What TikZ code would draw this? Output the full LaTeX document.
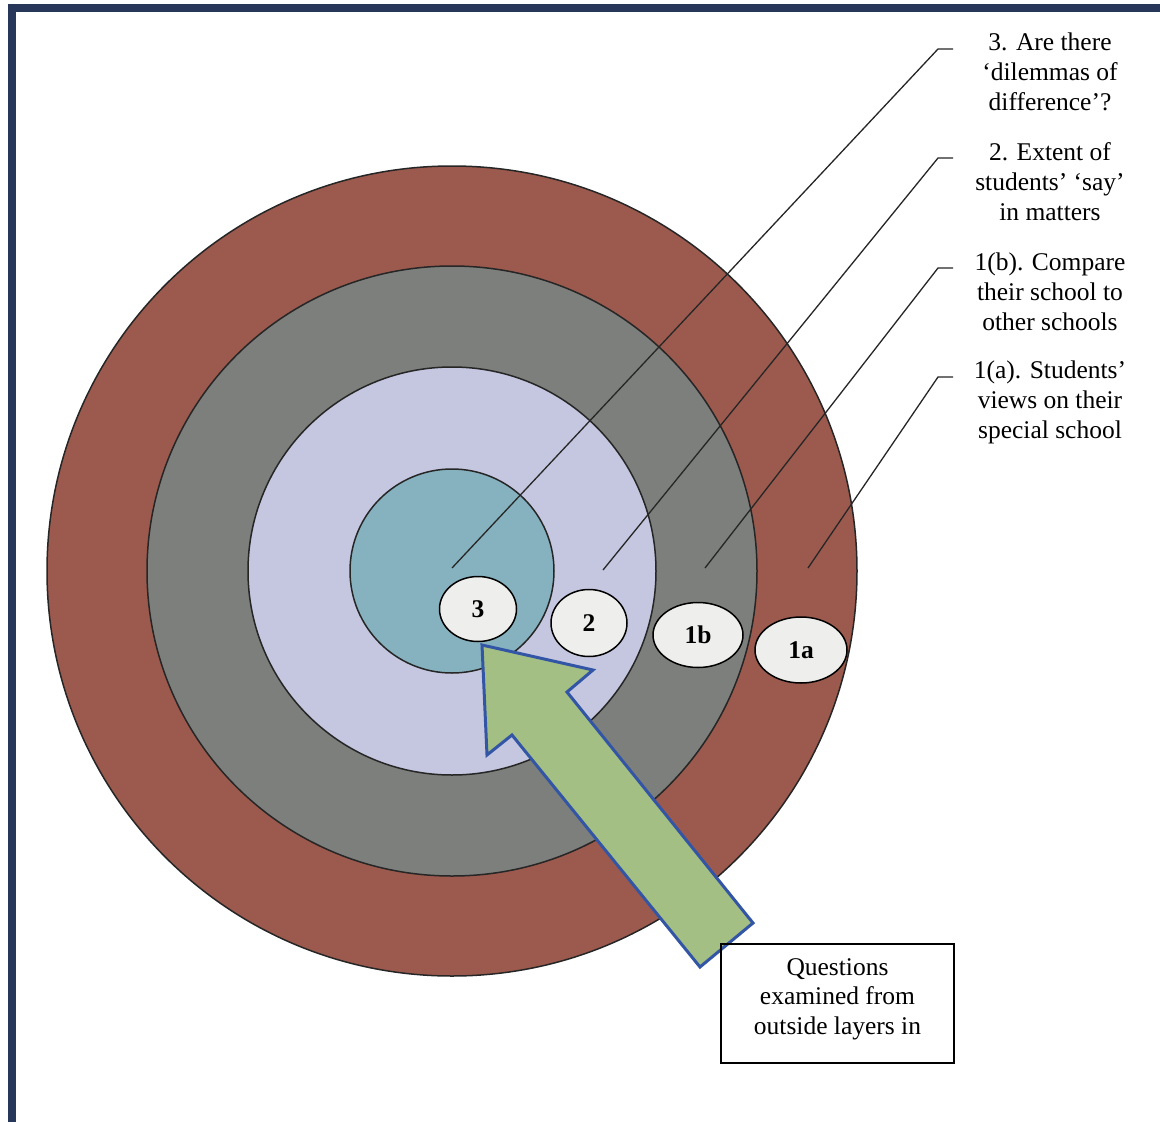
\documentclass[tikz,border=0pt]{standalone}
\usepackage{fontspec}
\setmainfont{Liberation Serif}
\usetikzlibrary{shapes.geometric}
\definecolor{frameblue}{HTML}{27375A}
\definecolor{ringbrown}{HTML}{9C5A4E}
\definecolor{ringgray}{HTML}{7C7F7B}
\definecolor{ringlav}{HTML}{C5C7E0}
\definecolor{coreteal}{HTML}{86B2BF}
\definecolor{bubblefill}{HTML}{EEEEEC}
\definecolor{arrowgreen}{HTML}{A4BF84}
\definecolor{arrowedge}{HTML}{3355A5}

\begin{document}
\begin{tikzpicture}[x=1pt,y=-1pt,
  ring/.style={draw=black!85, line width=1.5pt},
  bubble/.style={ellipse, draw=black, line width=1.5pt, fill=bubblefill, inner sep=0pt,
    font=\fontsize{25.5}{30}\selectfont\bfseries},
  leader/.style={draw=black!85, line width=1.3pt},
  caption/.style={align=center, inner sep=0pt, anchor=north,
    font=\fontsize{25.5}{30}\selectfont},
]
\useasboundingbox (0,0) rectangle (1160,1122);
\fill[white] (0,0) rectangle (1160,1122);

% page frame (top and left rules)
\fill[frameblue] (8,4) rectangle (1160,12);
\fill[frameblue] (8,4) rectangle (16,1122);

% concentric layers
\coordinate (c) at (452,571);
\filldraw[ring, fill=ringbrown] (c) circle[radius=405pt];
\filldraw[ring, fill=ringgray]  (c) circle[radius=305pt];
\filldraw[ring, fill=ringlav]   (c) circle[radius=204pt];
\filldraw[ring, fill=coreteal]  (c) circle[radius=102pt];

% leader line anchors
\coordinate (a3)  at (452,568);
\coordinate (a2)  at (603,570);
\coordinate (a1b) at (705,568);
\coordinate (a1a) at (808,568);
\coordinate (k3)  at (938,49);
\coordinate (k2)  at (938,158);
\coordinate (k1b) at (938,268);
\coordinate (k1a) at (938,377);
\coordinate (t3)  at (953,49);
\coordinate (t2)  at (953,158);
\coordinate (t1b) at (953,268);
\coordinate (t1a) at (953,377);

\draw[leader] (a3)  -- (k3)  -- (t3);
\draw[leader] (a2)  -- (k2)  -- (t2);
\draw[leader] (a1b) -- (k1b) -- (t1b);
\draw[leader] (a1a) -- (k1a) -- (t1a);

% captions
\node[caption] (l3)  at (1050,32.5)  {3. Are there\\‘dilemmas of\\difference’?};
\node[caption] (l2)  at (1050,142.6) {2. Extent of\\students’ ‘say’\\in matters};
\node[caption] (l1b) at (1050,252.6) {1(b). Compare\\their school to\\other schools};
\node[caption] (l1a) at (1050,360.6) {1(a). Students’\\views on their\\special school};

% layer markers
\node[bubble, minimum width=77pt, minimum height=65pt] (b3)  at (478,609) {3};
\node[bubble, minimum width=76pt, minimum height=67pt] (b2)  at (589,623) {2};
\node[bubble, minimum width=90pt, minimum height=65pt] (b1b) at (698,635) {1b};
\node[bubble, minimum width=92pt, minimum height=66pt] (b1a) at (801,650) {1a};

% inward block arrow
\filldraw[fill=arrowgreen, draw=arrowedge, line width=3pt, line join=miter]
  (482,645) -- (593,670) -- (567,692) -- (753,923) -- (700,967)
  -- (512,735) -- (487,755) -- cycle;

% explanatory box
\node[draw=black, line width=1.3pt, minimum width=233pt, minimum height=119pt]
  (qbox) at (837.5,1003.5) {};
\node[align=center, inner sep=0pt, font=\fontsize{25.5}{29.5}\selectfont]
  at (837.5,999) {Questions\\examined from\\outside layers in};
\end{tikzpicture}
\end{document}
